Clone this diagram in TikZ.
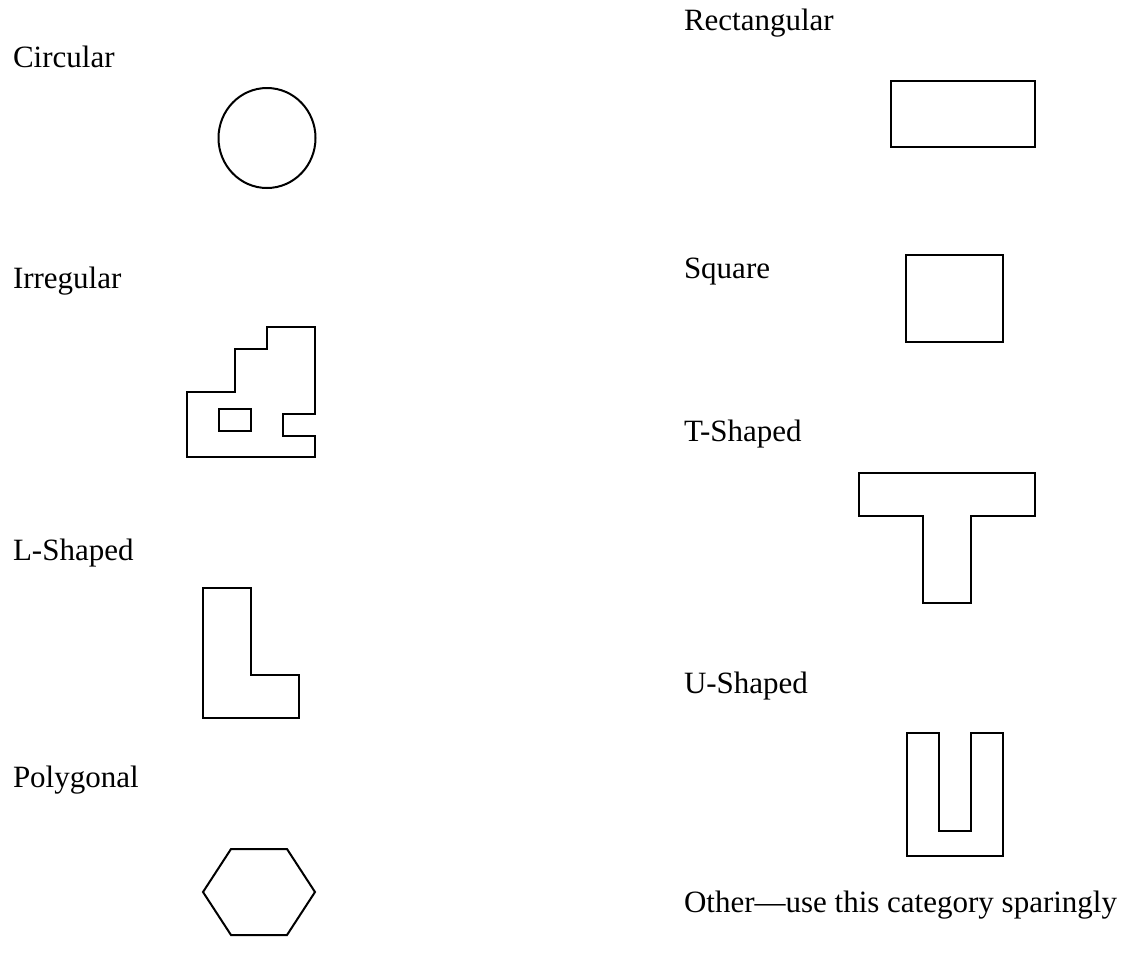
\documentclass[tikz,border=0pt]{standalone}
\usepackage{fontspec}
\setmainfont{Liberation Serif}
\begin{document}
\begin{tikzpicture}[x=1pt, y=-1pt, line width=2pt, line join=miter,
  catlabel/.style={anchor=base west, inner sep=0pt, font=\fontsize{31}{37}\selectfont}]
  \useasboundingbox (0,0) rectangle (1134,959);

  % Left column labels
  \node[catlabel] (circ) at (12,67) {Circular};
  \node[catlabel] (irr) at (12,288) {Irregular};
  \node[catlabel] (lsh) at (12,560) {L-Shaped};
  \node[catlabel] (poly) at (12,787) {Polygonal};

  % Right column labels
  \node[catlabel] (rect) at (683,30) {Rectangular};
  \node[catlabel] (sq) at (683,278) {Square};
  \node[catlabel] (tsh) at (683,441) {T-Shaped};
  \node[catlabel] (ush) at (683,693) {U-Shaped};
  \node[catlabel] (oth) at (683,912) {Other---use this category sparingly};

  % Circular
  \draw (267,138) ellipse (48.5 and 50);

  % Irregular
  \draw (187,392) -- (235,392) -- (235,349) -- (267,349) -- (267,327)
    -- (315,327) -- (315,414) -- (283,414) -- (283,436) -- (315,436)
    -- (315,457) -- (187,457) -- cycle;
  \draw (219,409) rectangle (251,431);

  % L-Shaped
  \draw (203,588) -- (251,588) -- (251,675) -- (299,675) -- (299,718)
    -- (203,718) -- cycle;

  % Polygonal
  \draw (203,892) -- (231,849) -- (287,849) -- (315,892) -- (287,935)
    -- (231,935) -- cycle;

  % Rectangular
  \draw (891,81) rectangle (1035,147);

  % Square
  \draw (906,255) rectangle (1003,342);

  % T-Shaped
  \draw (859,473) -- (1035,473) -- (1035,516) -- (971,516) -- (971,603)
    -- (923,603) -- (923,516) -- (859,516) -- cycle;

  % U-Shaped
  \draw (907,733) -- (939,733) -- (939,831) -- (971,831) -- (971,733)
    -- (1003,733) -- (1003,856) -- (907,856) -- cycle;
\end{tikzpicture}
\end{document}
